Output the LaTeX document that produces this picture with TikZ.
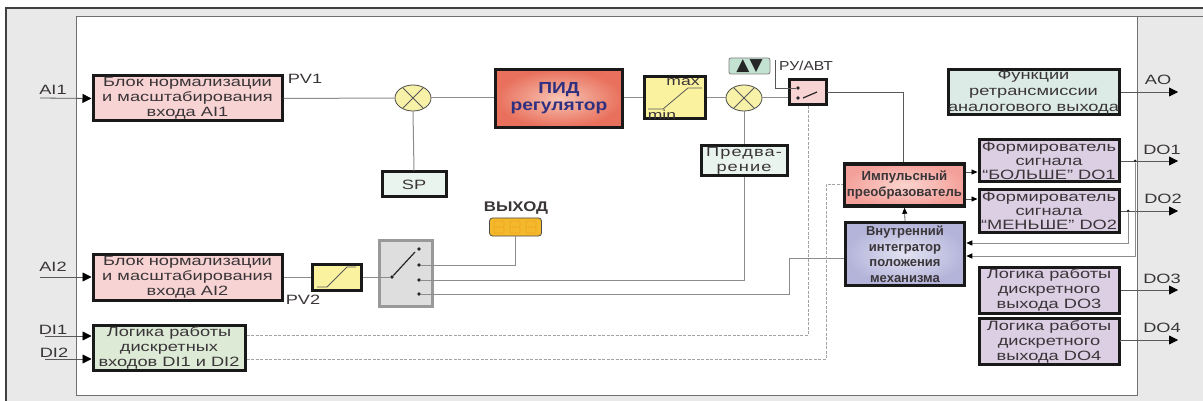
\documentclass[tikz,border=0pt]{standalone}
\usepackage{fontspec}
\setmainfont{Liberation Sans}[FakeStretch=1.35]
\newfontfamily\widef{Liberation Sans}[FakeStretch=1.2]
\newfontfamily\plainf{Liberation Sans}
\newfontfamily\symf{DejaVu Sans}
\usetikzlibrary{shapes.geometric,arrows.meta}
\definecolor{panelgray}{HTML}{E9E9E9}
\definecolor{edgegray}{HTML}{707070}
\definecolor{wiregray}{HTML}{8C8C8C}
\definecolor{ink}{HTML}{3A3538}
\definecolor{pinkbox}{HTML}{F8D3D3}
\definecolor{greenbox}{HTML}{DDEBD6}
\definecolor{tealbox}{HTML}{DCEBE6}
\definecolor{palebox}{HTML}{EAF4EE}
\definecolor{lilacbox}{HTML}{DCCFE4}
\definecolor{yellowbox}{HTML}{FBF2A0}
\definecolor{yellowsum}{HTML}{F7F2A8}
\definecolor{amber}{HTML}{F4B82C}
\definecolor{segm}{HTML}{EFA51E}
\definecolor{navy}{HTML}{2F3080}
\definecolor{pidin}{HTML}{F8C4B4}
\definecolor{pidout}{HTML}{E8705C}
\definecolor{impin}{HTML}{FBD4CE}
\definecolor{impout}{HTML}{F4A09A}
\definecolor{intin}{HTML}{E2E2F2}
\definecolor{intout}{HTML}{B4B4DA}
\definecolor{btn}{HTML}{C4E2D2}
\tikzset{
  blk/.style={draw=black!90,line width=3pt,align=center,inner sep=0pt,text=ink,
     font=\fontsize{13.5}{15}\selectfont},
  tight/.style={font=\fontsize{13.5}{14.2}\selectfont},
  airy/.style={font=\fontsize{13.5}{16}\selectfont},
  wire/.style={draw=wiregray,line width=1pt},
  darkwire/.style={draw=black!65,line width=0.8pt},
  dashwire/.style={draw=wiregray!80,line width=0.8pt,dash pattern=on 3pt off 1.5pt},
  tip/.style={-{Triangle[length=9pt,width=9pt,black]}},
  smalltip/.style={-{Triangle[length=6pt,width=5pt,black]}},
  sig/.style={text=ink,font=\fontsize{13.5}{15}\selectfont,inner sep=0pt},
  summer/.style={ellipse,draw=black!70,line width=0.8pt,fill=yellowsum,minimum width=36pt,minimum height=26pt,inner sep=0pt},
  dot/.style={circle,fill=black!85,inner sep=0pt,minimum size=3.6pt},
}
\begin{document}
\begin{tikzpicture}[x=1pt,y=-1pt]
\useasboundingbox (0,0) rectangle (1203,401);
\fill[white] (0,0) rectangle (1203,401);
% panel
\fill[panelgray] (6,8) rectangle (1203,401);
\draw[black!75,line width=1.2pt] (6,401) -- (6,8) -- (1203,8);
\fill[white] (76,17) rectangle (1137,395);
\draw[edgegray,line width=1pt] (76,17) rectangle (1137,395);
\draw[edgegray,line width=1pt] (1137,17) -- (1203,17);
% blocks
\node[blk,fill=pinkbox,minimum width=189pt,minimum height=45pt] (norm1) at (187.5,98.5) {Блок нормализации\\и масштабирования\\входа AI1};
\node[blk,fill=pinkbox,minimum width=189pt,minimum height=46pt] (norm2) at (187.5,277) {Блок нормализации\\и масштабирования\\входа AI2};
\node[blk,fill=greenbox,minimum width=152pt,minimum height=45pt] (dilogic) at (169,347.5) {Логика работы\\дискретных\\входов DI1 и DI2};
\node[blk,fill=palebox,minimum width=64pt,minimum height=25pt] (sp) at (414,184.5) {SP};
\node[blk,line width=3.5pt,minimum width=127pt,minimum height=58pt,inner color=pidin,outer color=pidout,text=navy,font=\widef\fontsize{16}{17}\selectfont\bfseries] (pid) at (559,98.5) {ПИД\\регулятор};
\node[blk,fill=yellowbox,minimum width=61pt,minimum height=42pt] (lim) at (674.5,98) {};
\node[blk,fill=palebox,minimum width=86pt,minimum height=30pt,font=\fontsize{13.5}{15}\selectfont\addfontfeature{LetterSpace=8}] (pred) at (744,161) {Предва-\\рение};
\node[blk,fill=pinkbox,minimum width=37pt,minimum height=25pt] (manual) at (807.5,92.5) {};
\node[blk,line width=0.8pt,draw=black!50,rounded corners=2pt,fill=btn,minimum width=41pt,minimum height=16pt,font=\symf\fontsize{17}{15}\selectfont,text=black!85] (updown) at (749.5,66) {▲▼};
\node[sig,font=\widef\fontsize{13}{14}\selectfont] (ruavt) at (806,66) {РУ/АВТ};
\node[blk,line width=3.5pt,minimum width=120pt,minimum height=42pt,inner color=impin,outer color=impout,font=\plainf\fontsize{13.2}{16}\selectfont\bfseries] (imp) at (904.5,185) {Импульсный\\преобразователь};
\node[blk,line width=3.5pt,minimum width=119pt,minimum height=63pt,inner color=intin,outer color=intout,font=\plainf\fontsize{13}{15.5}\selectfont\bfseries] (integ) at (905,254) {Внутренний\\интегратор\\положения\\механизма};
\node[blk,airy,fill=tealbox,minimum width=171pt,minimum height=42pt] (func) at (1033.5,92) {Функции\\ретрансмиссии\\аналогового выхода};
\node[blk,tight,fill=lilacbox,minimum width=140pt,minimum height=42pt] (form1) at (1049,161) {Формирователь\\сигнала\\“БОЛЬШЕ” DO1};
\node[blk,tight,fill=lilacbox,minimum width=140pt,minimum height=42pt] (form2) at (1049,211) {Формирователь\\сигнала\\“МЕНЬШЕ” DO2};
\node[blk,fill=lilacbox,minimum width=140pt,minimum height=46pt] (log3) at (1049,290) {Логика работы\\дискретного\\выхода DO3};
\node[blk,fill=lilacbox,minimum width=140pt,minimum height=46pt] (log4) at (1049,341.5) {Логика работы\\дискретного\\выхода DO4};
\node[blk,fill=yellowbox,minimum width=49pt,minimum height=26pt] (lim2) at (336.5,277) {};
\node[blk,draw=black!40,line width=3pt,fill=black!13,minimum width=53pt,minimum height=66pt] (sel) at (406,273.5) {};
\node[summer] (s1) at (413,98) {};
\node[summer] (s2) at (744,98) {};
\draw[darkwire] (s1.45) -- (s1.225) (s1.135) -- (s1.315) (s2.45) -- (s2.225) (s2.135) -- (s2.315);
% display
\node[draw=black!70,line width=0.8pt,rounded corners=3pt,fill=amber,minimum width=52pt,minimum height=18pt,inner sep=0pt] (disp) at (515.5,227) {};
\foreach \dx in {499,515,531}{\draw[segm,line width=0.6pt,rounded corners=1pt] (\dx-5,221) rectangle (\dx+5,233) (\dx-5,227) -- (\dx+5,227);}
\node[text=ink,font=\widef\fontsize{14}{14}\selectfont\bfseries,inner sep=0pt] (vyh) at (516,208) {ВЫХОД};
% limiter contents
\node[text=ink,font=\fontsize{13}{14}\selectfont,inner sep=0pt] (maxl) at (683,82) {max};
\node[text=ink,font=\fontsize{13}{14}\selectfont,inner sep=0pt] (minl) at (662,115) {min};
\draw[darkwire] (648,109) -- (663,109) -- (688,88) -- (702,88);
\draw[darkwire] (317,287) -- (327,287) -- (347,267) -- (356,267);
% labels
\node[sig] (ai1) at (53,90) {AI1};
\node[sig] (ai2) at (53,267) {AI2};
\node[sig] (di1) at (53,330) {DI1};
\node[sig] (di2) at (54,353) {DI2};
\node[sig] (pv1) at (305,79) {PV1};
\node[sig] (pv2) at (303,300) {PV2};
\node[sig] (ao) at (1158,80) {AO};
\node[sig] (do1) at (1162,150) {DO1};
\node[sig] (do2) at (1163,199) {DO2};
\node[sig] (do3) at (1162,279) {DO3};
\node[sig] (do4) at (1162,328) {DO4};
% inputs
\coordinate (iai1) at (40,98); \coordinate (iai2) at (40,277);
\coordinate (idi1) at (45,336); \coordinate (idi2) at (45,359);
\draw[darkwire,tip] (iai1) -- (norm1.west);
\draw[darkwire,tip] (iai2) -- (norm2.west);
\draw[darkwire,tip] (idi1) -- (idi1-|dilogic.west);
\draw[darkwire,tip] (idi2) -- (idi2-|dilogic.west);
% main chain
\draw[wire] (norm1.east) -- (s1.west);
\draw[wire] (s1.east) -- (s1-|pid.west);
\draw[wire] (s1-|pid.east) -- (s1-|lim.west);
\draw[wire] (s2-|lim.east) -- (s2.west);
\coordinate (mc1) at (788,88); \coordinate (mc2) at (802,98);
\coordinate (ms) at (827,92);
\draw[wire] (s2.east) -- (s2-|manual.west);
\draw[wire] (s1.south) -- (sp.north);
\draw[wire] (s2.south) -- (pred.north);
\coordinate (rutop) at (775,60);
\draw[darkwire] (rutop) |- (mc1);
% manual switch contents
\node[dot] (m1) at (798,88) {}; \node[dot] (m2) at (798,98) {};
\draw[black!85,line width=1.2pt] (m2) ++(5,0) -- (817,92);
\draw[darkwire] (mc1) -- (m1);
\draw[darkwire] (ms) -| (imp.north-|903,0);
% selector
\draw[wire] (norm2.east) -- (lim2.west);
\node[dot] (com) at (392,277) {};
\node[dot] (p1) at (419,249) {};
\node[dot] (p2) at (419,265) {};
\node[dot] (p3) at (419,280) {};
\node[dot] (p4) at (419,294) {};
\draw[wire] (lim2.east) -- (com);
\draw[black!85,line width=1.2pt] (com) -- (415,252);
\draw[wire] (p2) -| (disp.south);
\draw[wire] (p3) -| (pred.south);
\coordinate (bend) at (789,258);
\draw[wire] (p4) -| (bend) -- (bend-|integ.west);
% dashed digital lines
\coordinate (dcorner1) at (808,335);
\coordinate (dcorner2) at (826,359);
\coordinate (dtop2) at (826,184);
\draw[dashwire] (dcorner1-|dilogic.east) -- (dcorner1) -- (manual.south-|dcorner1);
\draw[dashwire] (dcorner2-|dilogic.east) -- (dcorner2) -- (dtop2) -- (dtop2-|imp.west);
% impulse/integrator
\draw[darkwire,smalltip] (integ.north) -- (imp.south);
\coordinate (f1a) at (966,172); \coordinate (f2a) at (966,199);
\draw[darkwire,smalltip] (f1a) -- (f1a-|form1.west);
\draw[darkwire,smalltip] (f2a) -- (f2a-|form2.west);
% outputs
\coordinate (oao) at (1178,92); \coordinate (odo1) at (1178,161); \coordinate (odo2) at (1178,211);
\coordinate (odo3) at (1178,290); \coordinate (odo4) at (1178,340);
\draw[darkwire,tip] (func.east) -- (oao);
\draw[darkwire,tip] (form1.east) -- (odo1);
\draw[darkwire,tip] (form2.east) -- (odo2);
\draw[darkwire,tip] (log3.east) -- (odo3);
\draw[darkwire,tip] (log4.east) -- (odo4-|log4.east) -- (odo4);
% feedback
\node[dot,minimum size=3pt] (j1) at (1135,161) {};
\node[dot,minimum size=3pt] (j2) at (1128,211) {};
\coordinate (fb1) at (1135,256); \coordinate (fb2) at (1128,243);
\draw[wire,smalltip] (j1) -- (fb1) -- (fb1-|integ.east);
\draw[wire,smalltip] (j2) -- (fb2) -- (fb2-|integ.east);
\end{tikzpicture}
\end{document}
